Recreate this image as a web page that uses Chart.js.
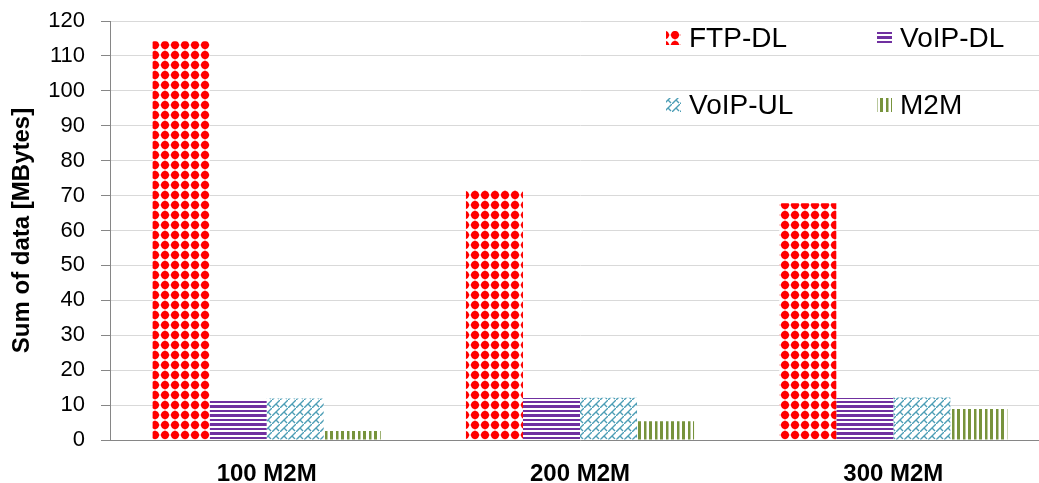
<!DOCTYPE html>
<html>
<head>
<meta charset="utf-8">
<script src="https://cdn.jsdelivr.net/npm/chart.js@4"></script>
<style>
  html, body { margin: 0; padding: 0; background: #fff; overflow: hidden; }
  canvas { display: block; }
</style>
</head>
<body>
<canvas id="chart" width="1055" height="483"></canvas>
<script>
// Data
const categories = ['100 M2M', '200 M2M', '300 M2M'];
const seriesNames = ['FTP-DL', 'VoIP-DL', 'VoIP-UL', 'M2M'];
const ftpDL = [114.2, 71.6, 67.8];
const voipDL = [11.6, 12.0, 12.0];
const voipUL = [11.9, 12.1, 12.2];
const m2m = [2.6, 5.4, 8.9];
const yTicks = { min: 0, max: 120, step: 10 };

const FONT = "'Liberation Sans', Arial, sans-serif";

// Fill patterns (like the Excel pattern fills)
function makePattern(w, h, draw) {
  const c = document.createElement('canvas');
  c.width = w; c.height = h;
  const g = c.getContext('2d');
  g.fillStyle = '#fff';
  g.fillRect(0, 0, w, h);
  draw(g);
  return document.getElementById('chart').getContext('2d').createPattern(c, 'repeat');
}

const redDots = makePattern(10, 10, g => {
  g.fillStyle = '#ff0000';
  g.beginPath();
  g.arc(5, 5, 3.9, 0, Math.PI * 2);
  g.fill();
  g.beginPath();
  g.moveTo(5, 0.3); g.lineTo(9.7, 5); g.lineTo(5, 9.7); g.lineTo(0.3, 5);
  g.closePath();
  g.fill();
});

const purpleLines = makePattern(9, 9, g => {
  g.fillStyle = '#7030a0';
  g.fillRect(0, 0, 9, 3);
  g.fillRect(0, 5, 9, 2);
});

// shingle: "/" diagonals with short "\" joints
const tealShingle = makePattern(8, 8, g => {
  g.strokeStyle = '#4b9db5';
  g.lineWidth = 1.4;
  g.beginPath();
  g.moveTo(-1, 9); g.lineTo(9, -1);
  g.moveTo(4, 4); g.lineTo(7, 7);
  g.stroke();
});

const greenLines = makePattern(11, 11, g => {
  g.fillStyle = '#77933c';
  g.fillRect(0, 0, 3, 11);
  g.fillRect(6, 0, 2.5, 11);
});

const fills = [redDots, purpleLines, tealShingle, greenLines];
const values = [ftpDL, voipDL, voipUL, m2m];

// Legend in a 2x2 grid inside the plot area
const gridLegend = {
  id: 'gridLegend',
  afterDraw(chart) {
    const ctx = chart.ctx;
    const cols = [666, 877];
    const rows = [38, 105];
    ctx.save();
    ctx.font = '28px ' + FONT;
    ctx.textBaseline = 'middle';
    ctx.textAlign = 'left';
    chart.data.datasets.forEach((ds, i) => {
      const x = cols[i % 2];
      const y = rows[Math.floor(i / 2)];
      ctx.fillStyle = ds.backgroundColor;
      ctx.fillRect(x, y - 7, 15, 14);
      ctx.fillStyle = '#000';
      ctx.fillText(ds.label, x + 23, y + 1);
    });
    ctx.restore();
  }
};

new Chart(document.getElementById('chart'), {
  type: 'bar',
  data: {
    labels: categories,
    datasets: seriesNames.map((name, i) => ({
      label: name,
      data: values[i],
      backgroundColor: fills[i],
      borderWidth: 0,
      barPercentage: 1.0,
      categoryPercentage: 0.728
    }))
  },
  options: {
    responsive: false,
    animation: false,
    layout: { padding: { top: 21, right: 5, left: 0, bottom: 0 } },
    plugins: {
      legend: { display: false },
      tooltip: { enabled: false }
    },
    scales: {
      x: {
        afterFit: scale => { scale.height = 43; },
        grid: { display: false },
        border: { display: true, color: '#868686', width: 1 },
        ticks: {
          color: '#000',
          font: { family: FONT, size: 24, weight: 'bold' },
          padding: 12
        }
      },
      y: {
        min: yTicks.min,
        max: yTicks.max,
        afterFit: scale => {
          scale.width = 110;
          scale.paddingTop = 0;
          scale.paddingBottom = 0;
        },
        grid: { color: '#d9d9d9', tickColor: '#868686', tickLength: 9 },
        border: { display: true, color: '#868686', width: 1 },
        ticks: {
          stepSize: yTicks.step,
          color: '#000',
          padding: 16,
          font: { family: FONT, size: 22 }
        },
        title: {
          display: true,
          text: 'Sum of data [MBytes]',
          color: '#000',
          padding: { top: 8, bottom: 0 },
          font: { family: FONT, size: 24, weight: 'bold' }
        }
      }
    }
  },
  plugins: [gridLegend]
});
</script>
</body>
</html>
